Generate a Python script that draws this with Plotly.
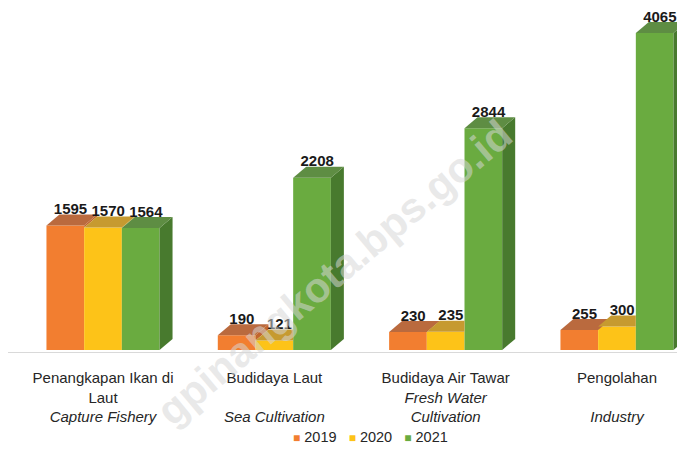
import plotly.graph_objects as go

# ---------------- data ----------------
categories = [
    "Penangkapan Ikan di<br>Laut<br><i>Capture Fishery</i>",
    "Budidaya Laut<br> <br><i>Sea Cultivation</i>",
    "Budidaya Air Tawar<br><i>Fresh Water<br>Cultivation</i>",
    "Pengolahan<br> <br><i>Industry</i>",
]
years = ["2019", "2020", "2021"]
v2019 = [1595, 190, 230, 255]
v2020 = [1570, 121, 235, 300]
v2021 = [1564, 2208, 2844, 4065]
series = [v2019, v2020, v2021]

# ---------------- style ----------------
front_col = ["#F27E30", "#FDC318", "#6AAB40"]
top_col = ["#BA6A3E", "#C69A30", "#5E8D43"]
side_col = ["#C2652C", "#D6A20E", "#487A2E"]
FONT = "Liberation Sans, Arial, sans-serif"

# the page body has an 8px margin, so the figure is sized to fit the window
W, H = 677, 443
PLOT_H = 344
M_B = H - PLOT_H
XR = [-0.5545, 3.397]
YR = [-26, 4385]
px_x = W / (XR[1] - XR[0])
px_y = PLOT_H / (YR[1] - YR[0])
DX = 13 / px_x          # 3D depth offset (data units)
DY = 11 / px_y
GROUP = 0.66
BW = GROUP / 3

xs = list(range(len(categories)))
fig = go.Figure()

# front faces (real bars)
for k, (yr, vals) in enumerate(zip(years, series)):
    fig.add_trace(go.Bar(
        x=xs, y=vals, name=yr, marker=dict(color=front_col[k], line=dict(width=0)),
        showlegend=False, hoverinfo="y",
    ))

# top and side faces derived from the data
for i in xs:
    for k in range(3):
        h = series[k][i]
        x0 = i - GROUP / 2 + k * BW
        x1 = x0 + BW
        nb = series[k + 1][i] if k < 2 else None
        base = 0 if nb is None else nb
        if nb is None or nb < h:
            fig.add_trace(go.Scatter(
                x=[x1, x1, x1 + DX, x1 + DX, x1],
                y=[base, h, h + DY, base + DY, base],
                fill="toself", fillcolor=side_col[k], mode="lines",
                line=dict(width=0, color=side_col[k]), hoverinfo="skip", showlegend=False))
        if nb is not None and nb >= h + DY:
            px_ = [x0, x1, x1, x0 + DX, x0]
        else:
            px_ = [x0, x1, x1 + DX, x0 + DX, x0]
        py_ = [h, h, h + DY, h + DY, h]
        fig.add_trace(go.Scatter(
            x=px_, y=py_, fill="toself", fillcolor=top_col[k], mode="lines",
            line=dict(width=0, color=top_col[k]), hoverinfo="skip", showlegend=False))

# data labels
for k in range(3):
    fig.add_trace(go.Scatter(
        x=[i - GROUP / 2 + k * BW + BW / 2 + DX * 0.4 for i in xs],
        y=[v + DY * 0.7 for v in series[k]],
        text=[str(v) for v in series[k]], mode="text", textposition="top center",
        textfont=dict(family=FONT, size=15, color="#1a1a1a", weight="bold"),
        cliponaxis=False, hoverinfo="skip", showlegend=False))

# legend (compact, as in the reference)
legend_text = "   ".join(
    f'<span style="color:{front_col[k]};font-size:12px">■</span> {yr}'
    for k, yr in enumerate(years))
fig.add_annotation(
    text=legend_text, xref="paper", yref="paper", x=362 / W, y=(PLOT_H - 429) / PLOT_H,
    xanchor="center", yanchor="middle", showarrow=False,
    font=dict(family=FONT, size=14.5, color="#262626"))

# watermark
fig.add_annotation(
    text="gpinangkota.bps.go.id", xref="paper", yref="paper",
    x=326 / W, y=(PLOT_H - 264) / PLOT_H, xanchor="center", yanchor="middle",
    textangle=-40, showarrow=False,
    font=dict(family=FONT, size=42, color="rgba(215,215,215,0.55)", weight="bold"))

fig.update_layout(
    width=W, height=H, margin=dict(l=0, r=0, t=0, b=M_B),
    paper_bgcolor="white", plot_bgcolor="white",
    barmode="group", bargap=1 - GROUP, bargroupgap=0, showlegend=False,
    font=dict(family=FONT, size=15, color="#262626"),
    xaxis=dict(range=XR, tickmode="array", tickvals=xs, ticktext=categories,
               showline=True, linecolor="#D9D9D9", linewidth=1, ticks="",
               showgrid=False, zeroline=False, tickangle=0, ticklabelstandoff=12,
               tickfont=dict(family=FONT, size=15, color="#262626")),
    yaxis=dict(range=YR, visible=False, showgrid=False, zeroline=False),
)

fig.write_html("out.html")
